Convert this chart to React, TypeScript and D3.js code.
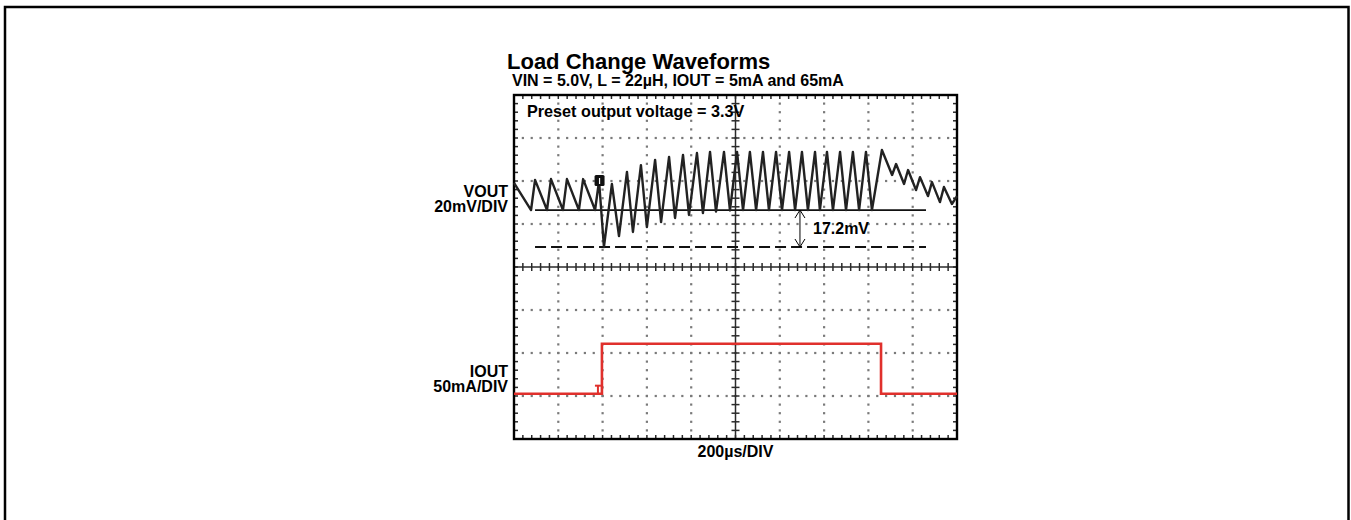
import React from 'react';
import * as d3 from 'd3';

const W = 1351;
const H = 520;

// Horizontal: 200 µs/DIV, 10 divisions
const timeTicks = [0, 200, 400, 600, 800, 1000, 1200, 1400, 1600, 1800, 2000];
// Vertical: 8 divisions
const divTicks = [0, 1, 2, 3, 4, 5, 6, 7, 8];

// VOUT trace: time (µs) and deviation (mV) relative to the steady ripple minimum
const voutT = [
  0, 77, 95, 149, 167, 221, 239, 293, 312, 366, 384, 406,
  442, 474, 510, 537, 573, 600, 637, 664, 700, 727, 763, 790, 826, 853, 885, 912, 948, 975, 1007, 1034,
  1065, 1093, 1124, 1151, 1183, 1210, 1242, 1269, 1300, 1327, 1359, 1381, 1413, 1440, 1472, 1499, 1530, 1558, 1589, 1616,
  1661, 1707, 1725, 1761, 1779, 1815, 1833, 1869, 1887, 1923, 1941, 1977, 2000,
];
const voutMV = [
  12.6, 0, 14.0, 0, 14.4, 0, 14.4, 0, 14.4, 0, 13.5, -17.2,
  12.1, -12.1, 17.7, -10.2, 20.9, -7.9, 23.3, -5.6, 24.7, -3.7, 25.6, -2.3, 26.5, -1.4, 27.0, -0.7, 27.0, -0.2, 27.0, 0,
  27.0, 0, 27.0, 0, 27.0, 0, 27.0, 0, 27.0, 0, 27.0, 0, 27.0, 0, 27.0, 0, 27.0, 0, 27.0, 0,
  27.9, 16.3, 21.4, 12.1, 18.6, 9.3, 15.3, 6.5, 13.0, 3.7, 10.7, 2.8, 6.5,
];

// Reference cursors (mV) and their time extent (µs)
const refLevelMV = 0;
const dipLevelMV = -17.2;
const cursorSpanT = [95, 1860];
const arrowT = 1291;
const dipLabel = '17.2mV';

// Trigger marker on VOUT
const triggerT = 384;
const triggerMV = 13.5;

// IOUT trace: time (µs) and current (mA)
const ioutT = [0, 397, 397, 1657, 1657, 2000];
const ioutMA = [5, 5, 63, 63, 5, 5];

const title = 'Load Change Waveforms';
const subtitle = 'VIN = 5.0V, L = 22µH, IOUT = 5mA and 65mA';
const note = 'Preset output voltage = 3.3V';
const voutLabel = ['VOUT', '20mV/DIV'];
const ioutLabel = ['IOUT', '50mA/DIV'];
const timeLabel = '200µs/DIV';

const FONT = '"Liberation Sans", Arial, Helvetica, sans-serif';

export default function App() {
  const x = d3.scaleLinear().domain([0, 2000]).range([514, 957]);
  const yDiv = d3.scaleLinear().domain([0, 8]).range([439, 95]);
  const yV = d3.scaleLinear().domain([-106.5, 53.5]).range([439, 95]);
  const yI = d3.scaleLinear().domain([-47.7, 352.3]).range([439, 95]);

  const minorT = d3.range(0, 2000.001, 40);
  const minorD = d3.range(0, 8.0001, 0.2);

  const voutPath = d3
    .line<number>()
    .x((_, i) => x(voutT[i]))
    .y((d) => yV(d))(voutMV) as string;
  const ioutPath = d3
    .line<number>()
    .x((_, i) => x(ioutT[i]))
    .y((d) => yI(d))(ioutMA) as string;

  const left = x(0), right = x(2000), top = yDiv(8), bottom = yDiv(0);
  const cx = x(1000), cy = yDiv(4);

  const dots: JSX.Element[] = [];
  divTicks.slice(1, -1).forEach((d) => {
    if (d === 4) return;
    minorT.slice(1, -1).forEach((t, i) =>
      dots.push(<rect key={`h${d}-${i}`} x={x(t) - 1.1} y={yDiv(d) - 1.1} width={2.2} height={2.2} fill="#7a7a7a" />)
    );
  });
  timeTicks.slice(1, -1).forEach((t) => {
    if (t === 1000) return;
    minorD.slice(1, -1).forEach((d, i) =>
      dots.push(<rect key={`v${t}-${i}`} x={x(t) - 1.1} y={yDiv(d) - 1.1} width={2.2} height={2.2} fill="#7a7a7a" />)
    );
  });

  const ticks: JSX.Element[] = [];
  minorT.slice(1, -1).forEach((t, i) => {
    ticks.push(<line key={`tt${i}`} x1={x(t)} x2={x(t)} y1={top} y2={top + 4} />);
    ticks.push(<line key={`tb${i}`} x1={x(t)} x2={x(t)} y1={bottom} y2={bottom - 4} />);
    ticks.push(<line key={`tc${i}`} x1={x(t)} x2={x(t)} y1={cy - 4} y2={cy + 4} />);
  });
  minorD.slice(1, -1).forEach((d, i) => {
    ticks.push(<line key={`tl${i}`} x1={left} x2={left + 4} y1={yDiv(d)} y2={yDiv(d)} />);
    ticks.push(<line key={`tr${i}`} x1={right} x2={right - 4} y1={yDiv(d)} y2={yDiv(d)} />);
    ticks.push(<line key={`tv${i}`} x1={cx - 4} x2={cx + 4} y1={yDiv(d)} y2={yDiv(d)} />);
  });

  const ax = x(arrowT);
  const ay1 = yV(refLevelMV);
  const ay2 = yV(dipLevelMV);
  const mx = x(triggerT);
  const my = yV(triggerMV);
  const rx = x(ioutT[1]);
  const ry = yI(ioutMA[0]);

  return (
    <svg
      width={W}
      height={H}
      viewBox={`0 0 ${W} ${H}`}
      style={{ position: 'absolute', left: 0, top: 0, background: '#fff' }}
      fontFamily={FONT}
      fontWeight="bold"
    >
      <rect x={5} y={7} width={1343.5} height={600} fill="none" stroke="#000" strokeWidth={2.5} />

      <text x={507} y={69} fontSize={22} fill="#000">{title}</text>
      <text x={512} y={86} fontSize={16} fill="#000">{subtitle}</text>

      {dots}
      <g stroke="#2a2a2a" strokeWidth={1.5}>
        {ticks}
        <line x1={cx} x2={cx} y1={top} y2={bottom} />
        <line x1={left} x2={right} y1={cy} y2={cy} />
      </g>
      <rect x={left} y={top} width={right - left} height={bottom - top} fill="none" stroke="#000" strokeWidth={2.4} />

      <text x={527} y={117} fontSize={16.2} fill="#000">{note}</text>

      {/* cursors */}
      <line x1={x(cursorSpanT[0])} x2={x(cursorSpanT[1])} y1={yV(refLevelMV)} y2={yV(refLevelMV)} stroke="#111" strokeWidth={1.8} />
      <line x1={x(cursorSpanT[0])} x2={x(cursorSpanT[1])} y1={yV(dipLevelMV)} y2={yV(dipLevelMV)} stroke="#111" strokeWidth={2} strokeDasharray="11,5" />

      <path d={voutPath} fill="none" stroke="#222" strokeWidth={2.4} strokeLinejoin="round" />

      {/* trigger marker */}
      <rect x={mx - 4.5} y={my - 6} width={10} height={11} rx={1.5} fill="#111" />
      <line x1={mx + 0.5} x2={mx + 0.5} y1={my - 3} y2={my + 3} stroke="#fff" strokeWidth={1.2} />

      {/* arrow */}
      <g stroke="#000" strokeWidth={1} fill="none">
        <line x1={ax} x2={ax} y1={ay1} y2={ay2} />
        <polyline points={`${ax - 5},${ay1 + 8} ${ax},${ay1} ${ax + 5},${ay1 + 8}`} />
        <polyline points={`${ax - 5},${ay2 - 8} ${ax},${ay2} ${ax + 5},${ay2 - 8}`} />
      </g>
      <text x={813} y={234} fontSize={16} fill="#000">{dipLabel}</text>

      <path d={ioutPath} fill="none" stroke="#e0302c" strokeWidth={2.6} />
      <g stroke="#e0302c" strokeWidth={2}>
        <line x1={rx - 7} x2={rx - 1} y1={ry - 8} y2={ry - 8} />
        <line x1={rx - 4} x2={rx - 4} y1={ry - 8} y2={ry} />
      </g>

      <g fontSize={16} fill="#000" textAnchor="end">
        <text x={508} y={197}>{voutLabel[0]}</text>
        <text x={508} y={212}>{voutLabel[1]}</text>
        <text x={508} y={377}>{ioutLabel[0]}</text>
        <text x={508} y={392}>{ioutLabel[1]}</text>
      </g>
      <text x={cx} y={457} fontSize={16} fill="#000" textAnchor="middle">{timeLabel}</text>
    </svg>
  );
}
